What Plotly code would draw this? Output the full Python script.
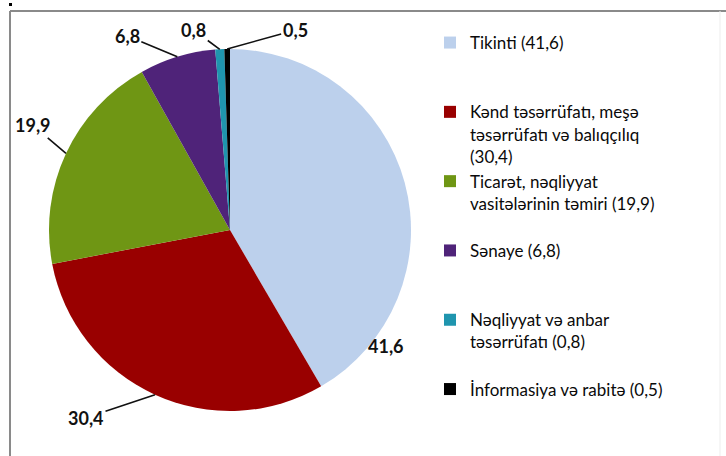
import math
import plotly.graph_objects as go

# ---- data ----
categories = [
    "Tikinti",
    "Kənd təsərrüfatı, meşə təsərrüfatı və balıqçılıq",
    "Ticarət, nəqliyyat vasitələrinin təmiri",
    "Sənaye",
    "Nəqliyyat və anbar təsərrüfatı",
    "İnformasiya və rabitə",
]
values = [41.6, 30.4, 19.9, 6.8, 0.8, 0.5]
legend_text = [
    "Tikinti ({v})",
    "Kənd təsərrüfatı, meşə<br>təsərrüfatı və balıqçılıq<br>({v})",
    "Ticarət, nəqliyyat<br>vasitələrinin təmiri ({v})",
    "Sənaye ({v})",
    "Nəqliyyat və anbar<br>təsərrüfatı ({v})",
    "İnformasiya və rabitə ({v})",
]
colors = ["#BCD0EC", "#990000", "#6F9614", "#4F2379", "#1F95AE", "#000000"]

# ---- layout geometry / style ----
W, H = 726, 456
CX, CY, R = 230, 230, 181
LEG_LINES = 3  # pad legend entries to equal height
FONT = "Lato, 'Open Sans', sans-serif"
# label offsets (pixels) from the slice's mid-edge point: (dx, dy, leader line?)
label_offsets = [(-19, 163, False), (-69, 23, True), (-33, -28, True),
                 (-50, -21, True), (-26, -19, True), (68, -19, True)]


def fmt(v):
    return f"{v:.1f}".replace(".", ",")


def pad(s):
    n = s.count("<br>") + 1
    return s + "<br>\u00a0" * max(0, LEG_LINES - n)


labels = [t.format(v=fmt(v)) for t, v in zip(legend_text, values)]
labels = [pad(s) if i < len(labels) - 1 else s for i, s in enumerate(labels)]

fig = go.Figure(go.Pie(
    labels=labels,
    values=values,
    sort=False,
    direction="clockwise",
    rotation=0,
    marker=dict(colors=colors, line=dict(width=0)),
    textinfo="none",
    hovertext=categories,
    hoverinfo="text+value",
    domain=dict(x=[(CX - R) / W, (CX + R) / W], y=[1 - (CY + R) / H, 1 - (CY - R) / H]),
))

# data labels anchored on slice mid-angle edge points
total = sum(values)
cum = 0.0
annotations = []
for v, (dx, dy, leader) in zip(values, label_offsets):
    theta = math.radians((cum + v / 2) / total * 360)
    cum += v
    px = CX + R * math.sin(theta)
    py = CY - R * math.cos(theta)
    a = dict(x=px / W, y=1 - py / H, xref="paper", yref="paper",
             text=fmt(v), font=dict(family=FONT, size=18, color="#111111", weight="bold"))
    if leader:
        a.update(showarrow=True, ax=dx, ay=dy, arrowhead=0, arrowwidth=1.6,
                 arrowcolor="#111111", standoff=0, startstandoff=0)
    else:
        a.update(showarrow=False, xshift=dx, yshift=-dy)
    annotations.append(a)

shapes = [
    dict(type="line", xref="paper", yref="paper", x0=10 / W, x1=1, y0=1 - 11 / H, y1=1 - 11 / H,
         line=dict(color="#8A8A8A", width=2)),
    dict(type="line", xref="paper", yref="paper", x0=10 / W, x1=10 / W, y0=0, y1=1 - 11 / H,
         line=dict(color="#8A8A8A", width=2)),
    dict(type="line", xref="paper", yref="paper", x0=720 / W, x1=720 / W, y0=0, y1=1 - 11 / H,
         line=dict(color="#EDEDED", width=1)),
    dict(type="rect", xref="paper", yref="paper", x0=9 / W, x1=12 / W, y0=1 - 6 / H, y1=1 - 3 / H,
         line=dict(width=0), fillcolor="#000000"),
]

fig.update_layout(
    width=W, height=H,
    margin=dict(l=0, r=0, t=0, b=0),
    paper_bgcolor="white",
    plot_bgcolor="white",
    font=dict(family=FONT, color="#111111"),
    showlegend=True,
    legend=dict(x=430 / W, y=1 - 25 / H, xanchor="left", yanchor="top",
                font=dict(family=FONT, size=17, color="#0A0A0A"),
                valign="top", bgcolor="rgba(0,0,0,0)", traceorder="normal"),
    annotations=annotations,
    shapes=shapes,
)

fig.write_html("out.html", config={"displayModeBar": False},
               post_script="document.body.style.margin='0';document.body.style.overflow='hidden';")
